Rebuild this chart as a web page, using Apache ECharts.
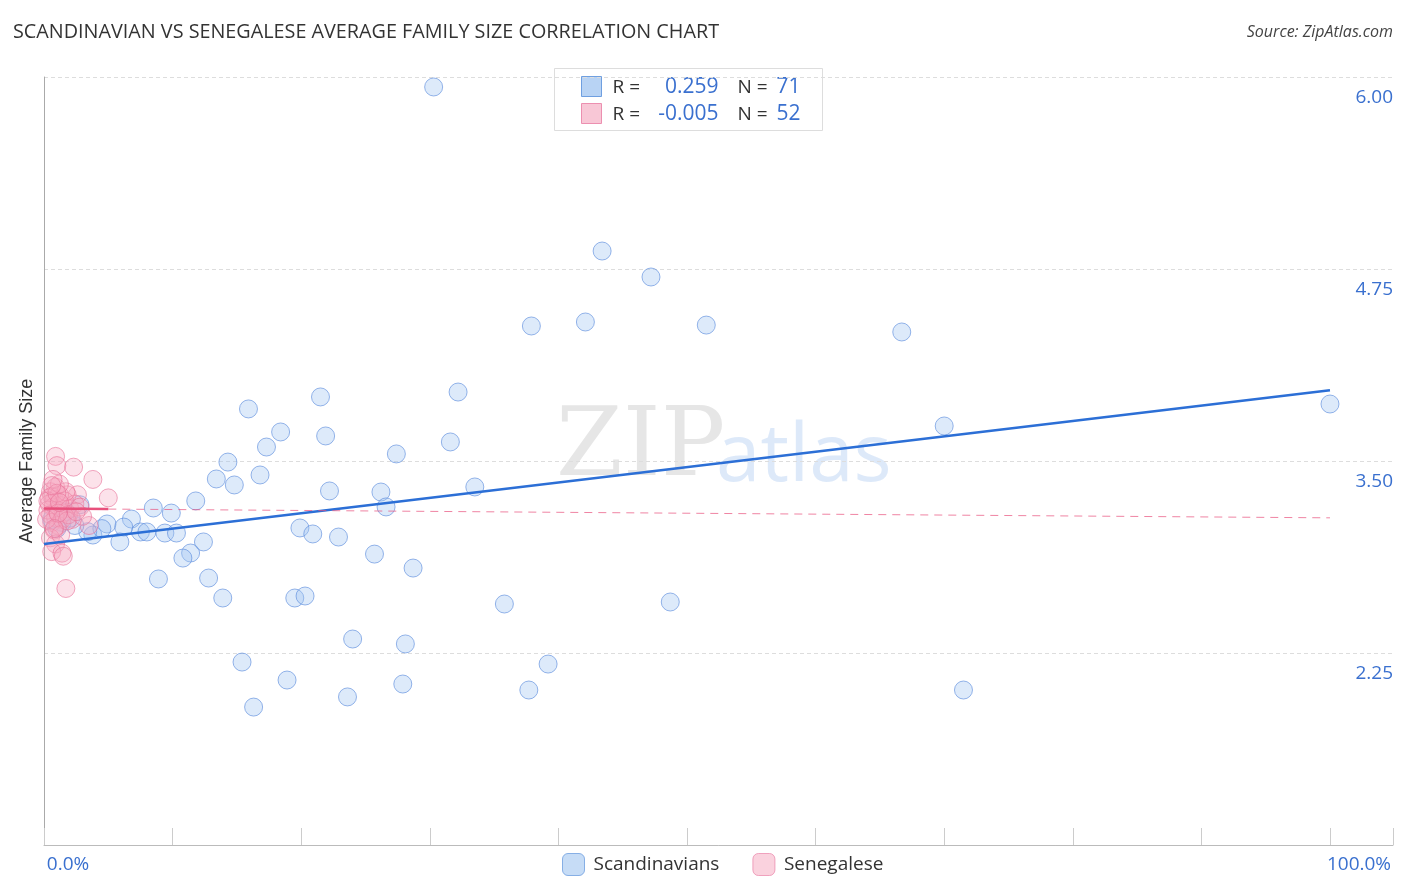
<!DOCTYPE html>
<html>
<head>
<meta charset="utf-8">
<script src="https://cdn.jsdelivr.net/npm/echarts@6/dist/echarts.min.js"></script>
<style>
html,body{margin:0;padding:0;background:#fff;}
#chart{width:1406px;height:892px;}
</style>
</head>
<body>
<div id="chart"></div>
<script>
const title = 'SCANDINAVIAN VS SENEGALESE AVERAGE FAMILY SIZE CORRELATION CHART';
const source = 'Source: ZipAtlas.com';
const seriesNames = ['Scandinavians', 'Senegalese'];
const rValues = ['0.259', '-0.005'];
const nValues = ['71', '52'];
const yTicks = [1.0, 2.25, 3.5, 4.75, 6.0];
const xTickLabels = {0: '0.0%', 100: '100.0%'};

const scandinavians = [
[30.3,5.935],[43.4,4.867],[47.2,4.698],[37.9,4.379],[42.1,4.405],[51.5,4.385],[66.7,4.34],
[100.0,3.871],[70.0,3.728],[32.2,3.949],[21.5,3.917],[15.9,3.839],[18.4,3.689],[21.9,3.663],
[17.3,3.591],[27.4,3.546],[31.6,3.624],[14.3,3.493],[13.4,3.383],[16.8,3.409],[14.8,3.344],
[33.5,3.331],[22.2,3.305],[26.2,3.298],[11.8,3.240],[26.6,3.201],[8.5,3.194],[9.9,3.161],
[6.8,3.122],[4.9,3.09],[6.2,3.07],[2.8,3.215],[2.1,3.13],[1.4,3.10],[3.8,3.018],[4.5,3.06],
[5.9,2.973],[7.5,3.038],[8.0,3.038],[9.4,3.031],[10.3,3.031],[12.4,2.973],[19.9,3.064],
[20.9,3.025],[22.9,3.005],[11.4,2.901],[10.8,2.868],[25.7,2.894],[28.7,2.803],[8.9,2.732],
[12.8,2.738],[13.9,2.608],[19.5,2.608],[20.3,2.621],[35.8,2.569],[48.7,2.582],[24.0,2.341],
[28.1,2.309],[15.4,2.191],[39.2,2.178],[18.9,2.074],[27.9,2.048],[37.7,2.009],[71.5,2.009],
[23.6,1.964],[16.3,1.898],[3.4,3.04],[1.0,3.06],[0.6,3.12],[2.4,3.08],[1.7,3.17]
];

const senegalese = [
[0.9,3.53],[1.0,3.47],[2.3,3.46],[3.8,3.38],[5.0,3.26],[2.6,3.28],[1.8,3.28],[0.9,3.33],
[0.5,3.30],[0.6,3.27],[0.8,3.25],[1.2,3.28],[0.4,3.22],[0.7,3.20],[1.0,3.18],[1.3,3.21],
[1.5,3.16],[0.5,3.15],[0.9,3.13],[1.6,3.24],[2.0,3.19],[2.4,3.22],[0.3,3.18],[0.6,3.10],
[1.1,3.08],[1.4,3.12],[0.8,3.05],[3.5,3.08],[2.2,3.12],[1.9,3.15],[0.4,3.26],[1.7,3.30],
[1.2,3.35],[0.7,3.38],[0.5,3.00],[0.9,2.96],[1.3,3.02],[0.6,2.91],[1.4,2.90],[1.5,2.88],
[1.7,2.67],[2.8,3.20],[3.0,3.14],[0.3,3.24],[1.0,3.29],[1.8,3.11],[2.5,3.17],[0.2,3.12],
[0.6,3.34],[1.1,3.16],[1.2,3.23],[0.8,3.06]
];

const blueTrend = [[0, 2.96], [100, 3.96]];
const pinkTrendSolid = [[0, 3.19], [5.0, 3.187]];
const pinkTrendDashed = [[5.0, 3.187], [100, 3.13]];

const BLUE = '#2c6fd6';
const BLUE_FILL = 'rgba(160,196,240,0.45)';
const BLUE_EDGE = 'rgba(90,140,220,0.8)';
const PINK = '#e8507c';
const PINK_FILL = 'rgba(246,170,194,0.42)';
const PINK_EDGE = 'rgba(232,110,150,0.75)';
const LABEL_BLUE = '#3a70cf';
const FONT = '"Open Sans", "DejaVu Sans", sans-serif';

const chart = echarts.init(document.getElementById('chart'));

const option = {
  animation: false,
  backgroundColor: '#ffffff',
  textStyle: {fontFamily: FONT},
  grid: {left: 44, right: 13, top: 77, bottom: 47},
  xAxis: {
    type: 'value', min: 0, max: 104.9, interval: 10,
    axisLine: {show: true, lineStyle: {color: '#bbbbbb', width: 1}},
    axisTick: {show: true, inside: true, length: 17, lineStyle: {color: '#cccccc'}},
    splitLine: {show: false},
    axisLabel: {
      show: true, color: LABEL_BLUE, fontSize: 19, margin: 10,
      formatter: function (v) {
        if (Math.abs(v) < 1e-6) return '{l|' + xTickLabels[0] + '}';
        if (Math.abs(v - 100) < 1e-6) return '{r|' + xTickLabels[100] + '}';
        return '';
      },
      rich: {
        l: {color: LABEL_BLUE, fontSize: 19, fontFamily: FONT, padding: [0, 0, 0, 48]},
        r: {color: LABEL_BLUE, fontSize: 19, fontFamily: FONT, padding: [0, 0, 0, 58]}
      }
    }
  },
  yAxis: [
    {
      type: 'value', min: yTicks[0], max: yTicks[yTicks.length - 1], interval: 1.25,
      position: 'left',
      axisLine: {show: true, lineStyle: {color: '#aaaaaa', width: 1}},
      axisTick: {show: false},
      axisLabel: {show: false},
      splitLine: {show: true, lineStyle: {color: '#dddddd', type: [4, 3], width: 1}},
      name: 'Average Family Size', nameLocation: 'middle', nameGap: 8,
      nameTextStyle: {color: '#333333', fontSize: 18, fontFamily: '"Liberation Sans", Arial, sans-serif'}
    },
    {
      type: 'value', min: yTicks[0], max: yTicks[yTicks.length - 1], interval: 1.25,
      position: 'right',
      axisLine: {show: false}, axisTick: {show: false}, splitLine: {show: false},
      axisLabel: {
        show: true, inside: true, color: LABEL_BLUE, fontSize: 19, margin: 0,
        verticalAlign: 'top', padding: [11, 0, 0, 0],
        formatter: function (v) { return Math.abs(v - 1) < 1e-6 ? '' : v.toFixed(2); }
      }
    }
  ],
  legend: {
    bottom: 11, left: 557, itemWidth: 22, itemHeight: 22, itemGap: 33,
    icon: 'roundRect',
    textStyle: {color: '#333333', fontSize: 19, fontFamily: FONT, padding: [0, 0, 0, 4]},
    data: [
      {name: seriesNames[0], itemStyle: {color: 'rgba(160,196,240,0.75)', borderColor: '#6f9fe0', borderWidth: 1}},
      {name: seriesNames[1], itemStyle: {color: 'rgba(246,180,200,0.75)', borderColor: '#ec8fb0', borderWidth: 1}}
    ]
  },
  graphic: [
    {type: 'text', left: 13, top: 22, style: {text: title, fill: '#333333', fontSize: 19.8, fontFamily: FONT}},
    {type: 'text', right: 13, top: 24, style: {text: source, fill: '#444444', fontSize: 16, fontStyle: 'italic', fontFamily: FONT}},
    {type: 'text', left: 556, top: 402, z: 0, silent: true, style: {text: 'ZIP', fill: 'rgba(200,200,200,0.45)', fontSize: 96, fontFamily: '"DejaVu Serif", "Liberation Serif", serif'}},
    {type: 'text', left: 716, top: 418, z: 0, silent: true, style: {text: 'atlas', fill: 'rgba(170,200,240,0.4)', fontSize: 80, fontFamily: FONT}},
    {type: 'group', left: 554, top: 68, z: 100, children: [
      {type: 'rect', shape: {x: 0, y: 0, width: 268, height: 62}, style: {fill: '#ffffff', stroke: '#dddddd', lineWidth: 1}},
      {type: 'rect', shape: {x: 27, y: 8, width: 20, height: 20}, style: {fill: 'rgba(160,196,240,0.75)', stroke: '#6f9fe0', lineWidth: 1}},
      {type: 'rect', shape: {x: 27, y: 35, width: 20, height: 20}, style: {fill: 'rgba(246,180,200,0.75)', stroke: '#ec8fb0', lineWidth: 1}},
      {type: 'text', x: 58, y: 19, style: {text: 'R =', fill: '#333333', fontSize: 19, fontFamily: FONT, verticalAlign: 'middle'}},
      {type: 'text', x: 58, y: 46, style: {text: 'R =', fill: '#333333', fontSize: 19, fontFamily: FONT, verticalAlign: 'middle'}},
      {type: 'text', x: 164, y: 19, style: {text: rValues[0], fill: LABEL_BLUE, fontSize: 21, fontFamily: FONT, align: 'right', verticalAlign: 'middle'}},
      {type: 'text', x: 164, y: 46, style: {text: rValues[1], fill: LABEL_BLUE, fontSize: 21, fontFamily: FONT, align: 'right', verticalAlign: 'middle'}},
      {type: 'text', x: 183, y: 19, style: {text: 'N =', fill: '#333333', fontSize: 19, fontFamily: FONT, verticalAlign: 'middle'}},
      {type: 'text', x: 183, y: 46, style: {text: 'N =', fill: '#333333', fontSize: 19, fontFamily: FONT, verticalAlign: 'middle'}},
      {type: 'text', x: 222, y: 19, style: {text: nValues[0], fill: LABEL_BLUE, fontSize: 21, fontFamily: FONT, verticalAlign: 'middle'}},
      {type: 'text', x: 222, y: 46, style: {text: nValues[1], fill: LABEL_BLUE, fontSize: 21, fontFamily: FONT, verticalAlign: 'middle'}}
    ]}
  ],
  series: [
    {
      name: seriesNames[0], type: 'scatter', data: scandinavians, symbolSize: 18, z: 3,
      itemStyle: {color: BLUE_FILL, borderColor: BLUE_EDGE, borderWidth: 1}
    },
    {
      name: seriesNames[1], type: 'scatter', data: senegalese, symbolSize: 18, z: 4,
      itemStyle: {color: PINK_FILL, borderColor: PINK_EDGE, borderWidth: 1}
    },
    {
      name: 'blueTrend', type: 'line', data: blueTrend, symbol: 'none', z: 5,
      lineStyle: {color: BLUE, width: 2.5}
    },
    {
      name: 'pinkTrendSolid', type: 'line', data: pinkTrendSolid, symbol: 'none', z: 6,
      lineStyle: {color: PINK, width: 2.5}
    },
    {
      name: 'pinkTrendDashed', type: 'line', data: pinkTrendDashed, symbol: 'none', z: 5,
      lineStyle: {color: 'rgba(232,80,124,0.7)', width: 1, type: [8, 6]}
    }
  ]
};
chart.setOption(option);
</script>
</body>
</html>
